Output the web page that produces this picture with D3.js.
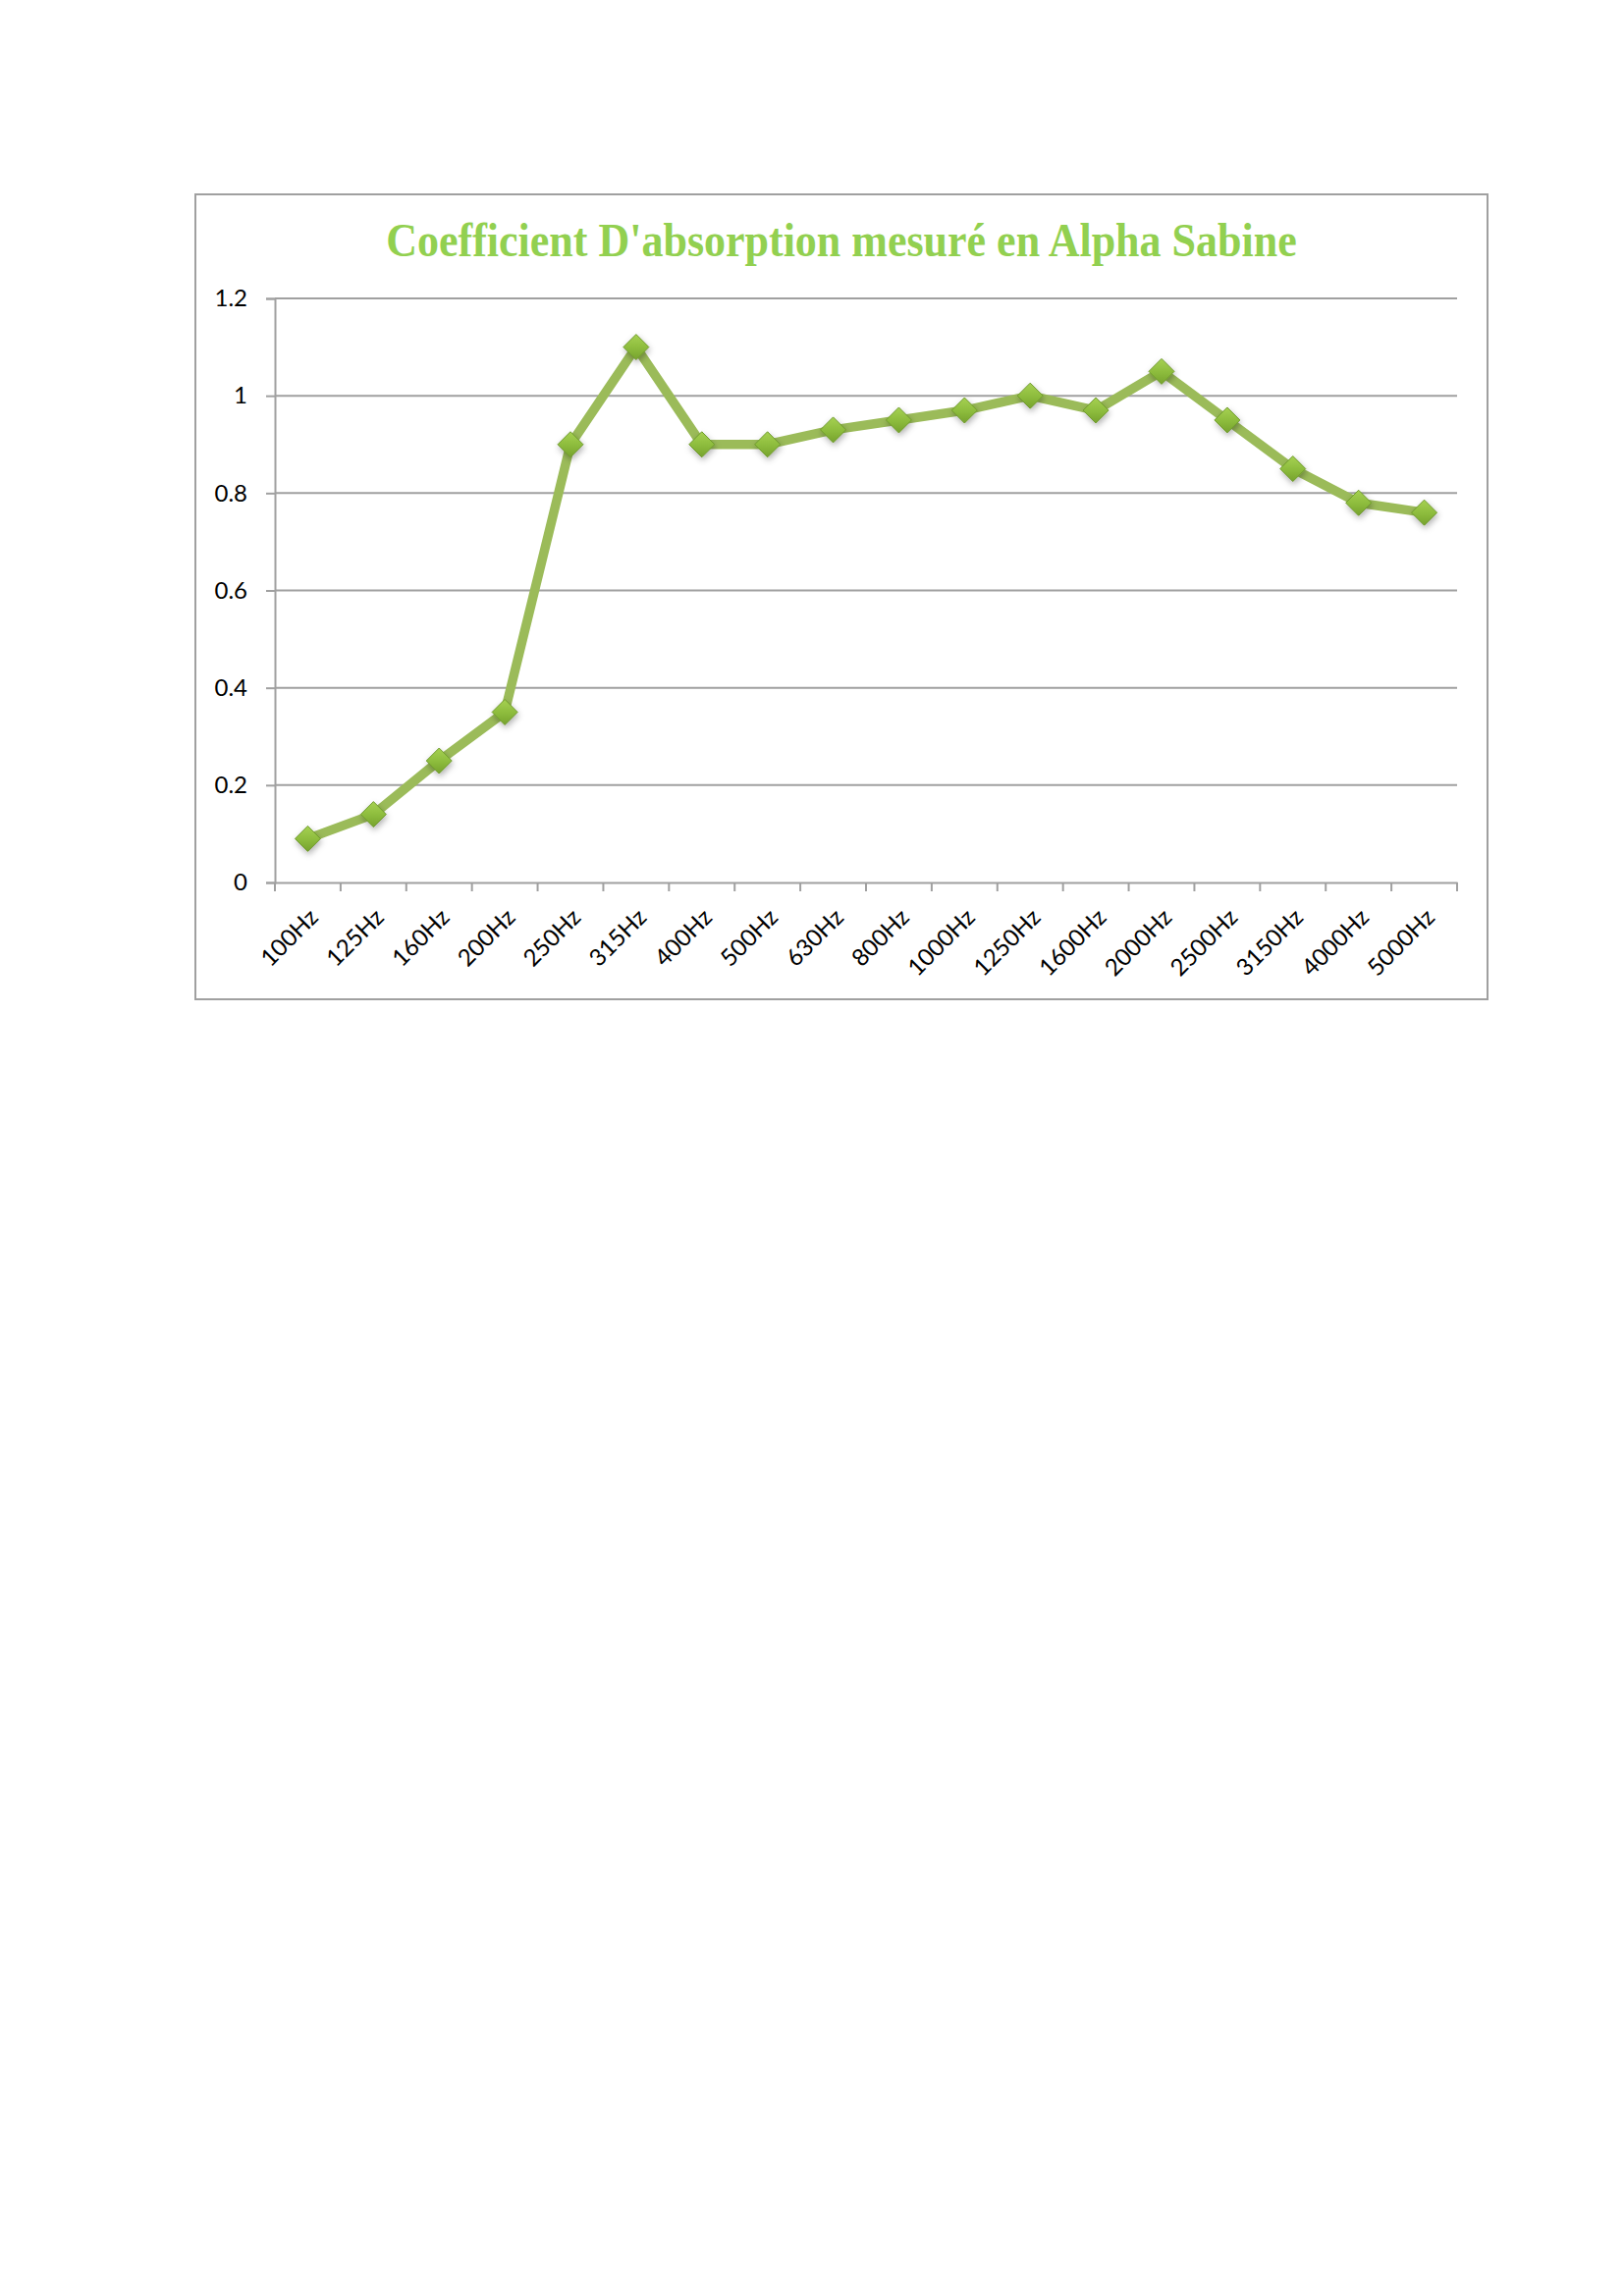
<!DOCTYPE html>
<html>
<head>
<meta charset="utf-8">
<script src="https://cdn.jsdelivr.net/npm/d3@7"></script>
<style>
  html, body { margin: 0; padding: 0; background: #ffffff; }
  svg { display: block; }
</style>
</head>
<body>
<svg id="chart" width="1654" height="2339"></svg>
<script>
const title = "Coefficient D'absorption mesuré en Alpha Sabine";
const categories = ["100Hz","125Hz","160Hz","200Hz","250Hz","315Hz","400Hz","500Hz","630Hz","800Hz","1000Hz","1250Hz","1600Hz","2000Hz","2500Hz","3150Hz","4000Hz","5000Hz"];
const values = [0.09, 0.14, 0.25, 0.35, 0.90, 1.10, 0.90, 0.90, 0.93, 0.95, 0.97, 1.00, 0.97, 1.05, 0.95, 0.85, 0.78, 0.76];
const yTicks = [0, 0.2, 0.4, 0.6, 0.8, 1, 1.2];

const svg = d3.select("#chart");

const frame = {x0: 199, y0: 198, x1: 1515, y1: 1018};
const plot = {left: 280, right: 1484, top: 304, bottom: 899};

const defs = svg.append("defs");
const grad = defs.append("linearGradient").attr("id", "mk").attr("x1", 0).attr("y1", 0).attr("x2", 0).attr("y2", 1);
grad.append("stop").attr("offset", "0%").attr("stop-color", "#a6d152");
grad.append("stop").attr("offset", "55%").attr("stop-color", "#8cbb3c");
grad.append("stop").attr("offset", "100%").attr("stop-color", "#76a22d");
const shadow = defs.append("filter").attr("id", "sh").attr("x", "-50%").attr("y", "-50%").attr("width", "200%").attr("height", "200%");
shadow.append("feDropShadow").attr("dx", 1).attr("dy", 3).attr("stdDeviation", 3).attr("flood-color", "#000").attr("flood-opacity", 0.3);

svg.append("rect")
  .attr("x", frame.x0).attr("y", frame.y0)
  .attr("width", frame.x1 - frame.x0).attr("height", frame.y1 - frame.y0)
  .attr("fill", "#ffffff").attr("stroke", "#a0a0a0").attr("stroke-width", 2);

svg.append("text")
  .attr("x", (frame.x0 + frame.x1) / 2).attr("y", 261)
  .attr("text-anchor", "middle")
  .attr("font-family", "'Liberation Serif', 'Times New Roman', serif")
  .attr("font-weight", "bold")
  .attr("font-size", 44)
  .attr("fill", "#92d050")
  .attr("transform", "translate(0,261) scale(1,1.08) translate(0,-261)")
  .text(title);

const x = d3.scaleBand().domain(categories).range([plot.left, plot.right]).paddingInner(0).paddingOuter(0);
const y = d3.scaleLinear().domain([0, 1.2]).range([plot.bottom, plot.top]);

svg.append("g").selectAll("line").data(yTicks.filter(d => d > 0)).join("line")
  .attr("x1", plot.left).attr("x2", plot.right)
  .attr("y1", d => y(d)).attr("y2", d => y(d))
  .attr("stroke", "#a0a0a0").attr("stroke-width", 2);

const yAxis = svg.append("g").attr("transform", `translate(${plot.left},0)`)
  .call(d3.axisLeft(y).tickValues(yTicks).tickFormat(d => String(d)).tickSize(9).tickPadding(19));
yAxis.select(".domain").attr("stroke", "#a0a0a0").attr("stroke-width", 2);
yAxis.selectAll(".tick line").attr("stroke", "#a0a0a0").attr("stroke-width", 2);
yAxis.selectAll(".tick text")
  .attr("font-family", "Lato, 'Open Sans', sans-serif").attr("font-size", 24).attr("fill", "#000");

const xAxis = svg.append("g").attr("transform", `translate(0,${plot.bottom})`)
  .call(d3.axisBottom(x).tickSize(0).tickPadding(0));
xAxis.select(".domain").attr("stroke", "#a0a0a0").attr("stroke-width", 2);
xAxis.selectAll(".tick text")
  .attr("font-family", "Lato, 'Open Sans', sans-serif").attr("font-size", 24).attr("fill", "#000")
  .attr("text-anchor", "end")
  .attr("dy", null)
  .attr("transform", "translate(12,37) rotate(-45)");
const bounds = categories.map(c => x(c)).concat([plot.right]);
svg.append("g").selectAll("line").data(bounds).join("line")
  .attr("x1", d => d).attr("x2", d => d)
  .attr("y1", plot.bottom).attr("y2", plot.bottom + 9)
  .attr("stroke", "#a0a0a0").attr("stroke-width", 2);

const pts = categories.map((c, i) => [x(c) + x.bandwidth() / 2, y(values[i])]);
svg.append("path")
  .attr("d", d3.line()(pts))
  .attr("fill", "none").attr("stroke", "#9bbb59").attr("stroke-width", 9.5)
  .attr("stroke-linejoin", "round").attr("stroke-linecap", "round");

const s = 13;
svg.append("g").selectAll("path").data(pts).join("path")
  .attr("d", d => `M${d[0]},${d[1]-s}L${d[0]+s},${d[1]}L${d[0]},${d[1]+s}L${d[0]-s},${d[1]}Z`)
  .attr("fill", "url(#mk)").attr("stroke", "#6e9a2c").attr("stroke-width", 1)
  .attr("filter", "url(#sh)");
</script>
</body>
</html>
